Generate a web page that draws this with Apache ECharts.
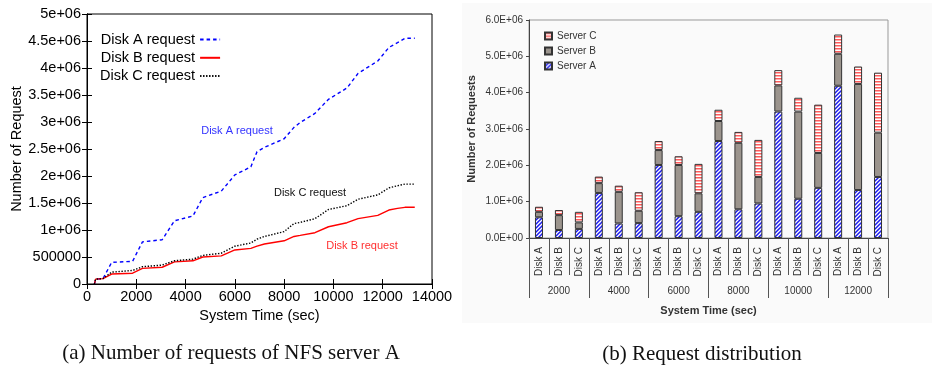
<!DOCTYPE html>
<html>
<head>
<meta charset="utf-8">
<script src="https://cdn.jsdelivr.net/npm/echarts@6/dist/echarts.min.js"></script>
<style>html,body{margin:0;padding:0;background:#fff}#c{width:932px;height:369px}</style>
</head>
<body>
<div id="c"></div>
<script>
// ---------- Data: (a) Number of requests of NFS server A (values in millions) ----------
const timeSec = [300, 350, 650, 1000, 1850, 2250, 3050, 3550, 4300, 4700, 5450, 6000, 6650, 6900, 7200, 8000, 8400, 8650, 9250, 9800, 10550, 11000, 11800, 12250, 12600, 12900, 13300];
const diskA   = [0, 0.09, 0.10, 0.40, 0.42, 0.78, 0.82, 1.17, 1.26, 1.60, 1.72, 2.02, 2.17, 2.45, 2.53, 2.69, 2.90, 2.99, 3.16, 3.42, 3.63, 3.90, 4.13, 4.38, 4.47, 4.55, 4.55];
const diskB   = [0, 0.09, 0.10, 0.185, 0.20, 0.29, 0.31, 0.41, 0.43, 0.50, 0.52, 0.63, 0.66, 0.70, 0.74, 0.80, 0.88, 0.90, 0.95, 1.06, 1.135, 1.21, 1.27, 1.37, 1.40, 1.42, 1.42];
const diskC   = [0, 0.09, 0.10, 0.22, 0.25, 0.32, 0.35, 0.43, 0.46, 0.53, 0.57, 0.70, 0.76, 0.83, 0.88, 0.97, 1.12, 1.14, 1.21, 1.38, 1.45, 1.57, 1.65, 1.78, 1.82, 1.85, 1.85];
const lineNames = ['Disk A request', 'Disk B request', 'Disk C request'];
const xTickLabelsA = ['0', '2000', '4000', '6000', '8000', '10000', '12000', '14000'];
const yTickLabelsA = ['0', '500000', '1e+06', '1.5e+06', '2e+06', '2.5e+06', '3e+06', '3.5e+06', '4e+06', '4.5e+06', '5e+06'];

// ---------- Data: (b) Request distribution (values in millions) ----------
const timeGroups = ['2000', '4000', '6000', '8000', '10000', '12000'];
const disks = ['Disk A', 'Disk B', 'Disk C'];
const serverA = [0.57, 0.22, 0.25, 1.24, 0.40, 0.41, 2.01, 0.60, 0.72, 2.67, 0.79, 0.95, 3.48, 1.08, 1.38, 4.19, 1.32, 1.68];
const serverB = [0.15, 0.41, 0.18, 0.27, 0.87, 0.34, 0.41, 1.41, 0.51, 0.55, 1.83, 0.73, 0.72, 2.40, 0.96, 0.88, 2.92, 1.22];
const serverC = [0.14, 0.14, 0.29, 0.18, 0.17, 0.51, 0.25, 0.24, 0.81, 0.31, 0.30, 1.02, 0.42, 0.38, 1.33, 0.53, 0.48, 1.65];
const yTickLabelsB = ['0.0E+00', '1.0E+06', '2.0E+06', '3.0E+06', '4.0E+06', '5.0E+06', '6.0E+06'];

// ---------- Build ----------
const diskCats = [];
timeGroups.forEach(g => disks.forEach(d => diskCats.push(g + '|' + d)));
const pts = arr => timeSec.map((t, i) => [t, arr[i]]);

function pattern(kind) {
  const c = document.createElement('canvas');
  const g = c.getContext('2d');
  if (kind === 'diag') {
    c.width = 4; c.height = 4;
    g.fillStyle = '#ffffff'; g.fillRect(0, 0, 4, 4);
    g.strokeStyle = '#1a1af0'; g.lineWidth = 1.5;
    g.beginPath();
    g.moveTo(-1, 5); g.lineTo(5, -1);
    g.moveTo(-1, 1); g.lineTo(1, -1);
    g.moveTo(3, 5); g.lineTo(5, 3);
    g.stroke();
  } else {
    c.width = 4; c.height = 3;
    g.fillStyle = '#ffffff'; g.fillRect(0, 0, 4, 3);
    g.fillStyle = '#ff5a5a'; g.fillRect(0, 0, 4, 1.5);
  }
  return { image: c, repeat: 'repeat' };
}
const patA = pattern('diag');
const patC = pattern('horiz');

const FONT = 'Liberation Sans';
const chart = echarts.init(document.getElementById('c'), null, { renderer: 'canvas' });

chart.setOption({
  animation: false,
  textStyle: { fontFamily: FONT },
  graphic: [
    { type: 'rect', z: -10, shape: { x: 462, y: 3, width: 470, height: 320 }, style: { fill: '#fafafa' } },
    { type: 'text', style: { text: 'Disk A request', x: 237, y: 131, textAlign: 'center', textVerticalAlign: 'middle', font: '11px "Liberation Sans"', fill: '#3333ff' } },
    { type: 'text', style: { text: 'Disk C request', x: 310, y: 193, textAlign: 'center', textVerticalAlign: 'middle', font: '11px "Liberation Sans"', fill: '#111' } },
    { type: 'text', style: { text: 'Disk B request', x: 362, y: 246, textAlign: 'center', textVerticalAlign: 'middle', font: '11px "Liberation Sans"', fill: '#ff3030' } },
    { type: 'text', style: { text: '(a) Number of requests of NFS server A', x: 231, y: 353, textAlign: 'center', textVerticalAlign: 'middle', font: '21px "Liberation Serif"', fill: '#111' } },
    { type: 'text', style: { text: '(b) Request distribution', x: 702, y: 354, textAlign: 'center', textVerticalAlign: 'middle', font: '21px "Liberation Serif"', fill: '#111' } }
  ],
  legend: [
    {
      data: lineNames, orient: 'vertical', left: 95, top: 26, align: 'right',
      itemWidth: 20, itemHeight: 14, itemGap: 1.3,
      itemStyle: { opacity: 0, color: 'rgba(0,0,0,0)', borderWidth: 0 },
      textStyle: { fontSize: 14.5, color: '#000', lineHeight: 17, fontFamily: FONT }
    },
    {
      data: ['Server C', 'Server B', 'Server A'], orient: 'vertical', left: 539, top: 25,
      icon: 'rect', itemWidth: 7, itemHeight: 7, itemGap: 3,
      textStyle: { fontSize: 10, color: '#333', lineHeight: 12, fontFamily: FONT }
    }
  ],
  grid: [
    { left: 87, top: 14, width: 345, height: 270, show: true, borderColor: '#000', borderWidth: 1, backgroundColor: 'transparent' },
    { left: 529, top: 20, width: 359, height: 218, show: true, borderColor: '#999', borderWidth: 1, backgroundColor: 'transparent' }
  ],
  xAxis: [
    {
      gridIndex: 0, type: 'value', min: 0, max: 14000, interval: 2000,
      axisLine: { lineStyle: { color: '#000' } }, splitLine: { show: false },
      axisTick: { inside: true, length: 5, lineStyle: { color: '#000' } },
      axisLabel: { fontSize: 14.5, color: '#000', margin: 5, formatter: (v, i) => xTickLabelsA[i] },
      name: 'System Time (sec)', nameLocation: 'middle', nameGap: 23,
      nameTextStyle: { fontSize: 14.5, color: '#000' }
    },
    {
      gridIndex: 0, type: 'value', position: 'top', min: 0, max: 14000, interval: 2000,
      axisLine: { lineStyle: { color: '#000' } }, splitLine: { show: false },
      axisTick: { inside: true, length: 5, lineStyle: { color: '#000' } },
      axisLabel: { show: false }
    },
    {
      gridIndex: 1, type: 'category', data: diskCats, boundaryGap: true,
      axisLine: { lineStyle: { color: '#444' } },
      axisTick: { show: true, interval: 0, length: 37, lineStyle: { color: '#555' } },
      axisLabel: { interval: 0, rotate: 90, fontSize: 10, color: '#333', margin: 9, formatter: v => v.split('|')[1] }
    },
    {
      gridIndex: 1, type: 'category', data: timeGroups, boundaryGap: true, position: 'bottom', offset: 37,
      axisLine: { show: false },
      axisTick: { show: true, interval: 0, length: 23, lineStyle: { color: '#555' } },
      axisLabel: { interval: 0, fontSize: 10, color: '#333', margin: 11 },
      name: 'System Time (sec)', nameLocation: 'middle', nameGap: 30,
      nameTextStyle: { fontSize: 11, fontWeight: 'bold', color: '#333' }
    }
  ],
  yAxis: [
    {
      gridIndex: 0, type: 'value', min: 0, max: 5, interval: 0.5,
      axisLine: { show: true, lineStyle: { color: '#000' } }, splitLine: { show: false },
      axisTick: { show: true, inside: true, length: 5, lineStyle: { color: '#000' } },
      axisLabel: { fontSize: 14.5, color: '#000', margin: 6, formatter: (v, i) => yTickLabelsA[i] },
      name: 'Number of Request', nameLocation: 'middle', nameGap: 58,
      nameTextStyle: { fontSize: 14.5, color: '#000' }
    },
    {
      gridIndex: 0, type: 'value', position: 'right', min: 0, max: 5, interval: 0.5,
      axisLine: { show: true, lineStyle: { color: '#000' } }, splitLine: { show: false },
      axisTick: { show: true, inside: true, length: 5, lineStyle: { color: '#000' } },
      axisLabel: { show: false }
    },
    {
      gridIndex: 1, type: 'value', min: 0, max: 6, interval: 1,
      axisLine: { show: true, lineStyle: { color: '#444' } }, splitLine: { show: false },
      axisTick: { show: true, length: 3, lineStyle: { color: '#444' } },
      axisLabel: { fontSize: 10, color: '#333', margin: 6, formatter: (v, i) => yTickLabelsB[i] },
      name: 'Number of Requests', nameLocation: 'middle', nameGap: 52,
      nameTextStyle: { fontSize: 11, fontWeight: 'bold', color: '#333' }
    }
  ],
  series: [
    { name: lineNames[0], type: 'line', xAxisIndex: 0, yAxisIndex: 0, data: pts(diskA), symbol: 'none',
      lineStyle: { color: '#0000ff', width: 1.4, type: [3.5, 3] }, itemStyle: { color: '#0000ff' } },
    { name: lineNames[1], type: 'line', xAxisIndex: 0, yAxisIndex: 0, data: pts(diskB), symbol: 'none',
      lineStyle: { color: '#ff0000', width: 1.4 }, itemStyle: { color: '#ff0000' } },
    { name: lineNames[2], type: 'line', xAxisIndex: 0, yAxisIndex: 0, data: pts(diskC), symbol: 'none',
      lineStyle: { color: '#000000', width: 1.4, type: [1.4, 1.6] }, itemStyle: { color: '#000000' } },
    { name: 'Server A', type: 'bar', xAxisIndex: 2, yAxisIndex: 2, stack: 'tot', data: serverA, barWidth: 8,
      itemStyle: { color: patA, borderColor: '#333', borderWidth: 1 } },
    { name: 'Server B', type: 'bar', xAxisIndex: 2, yAxisIndex: 2, stack: 'tot', data: serverB, barWidth: 8,
      itemStyle: { color: '#9b948d', borderColor: '#333', borderWidth: 1 } },
    { name: 'Server C', type: 'bar', xAxisIndex: 2, yAxisIndex: 2, stack: 'tot', data: serverC, barWidth: 8,
      itemStyle: { color: patC, borderColor: '#333', borderWidth: 1 } }
  ]
});
</script>
</body>
</html>
